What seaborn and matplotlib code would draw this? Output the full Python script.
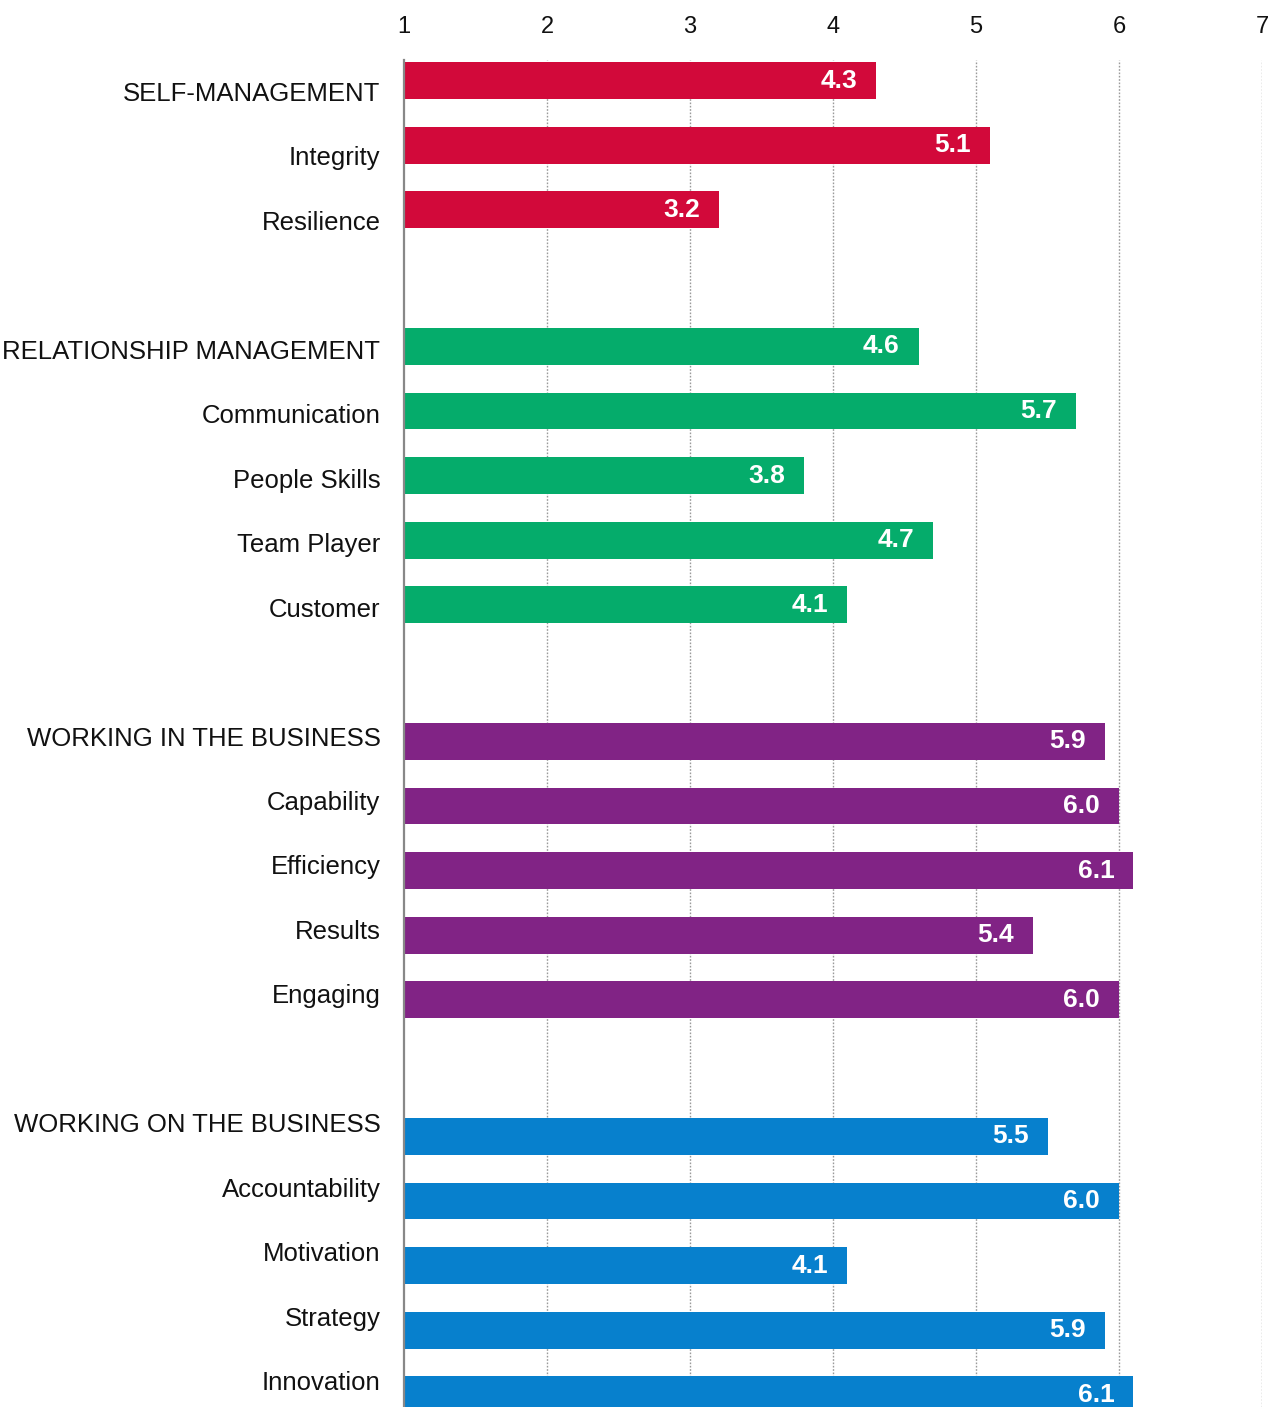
import matplotlib
matplotlib.use("Agg")
import matplotlib.pyplot as plt
import seaborn as sns
import pandas as pd
import numpy as np

labels = ["SELF-MANAGEMENT", "Integrity", "Resilience",
          "RELATIONSHIP MANAGEMENT", "Communication", "People Skills", "Team Player", "Customer",
          "WORKING IN THE BUSINESS", "Capability", "Efficiency", "Results", "Engaging",
          "WORKING ON THE BUSINESS", "Accountability", "Motivation", "Strategy", "Innovation"]
values = [4.3, 5.1, 3.2,
          4.6, 5.7, 3.8, 4.7, 4.1,
          5.9, 6.0, 6.1, 5.4, 6.0,
          5.5, 6.0, 4.1, 5.9, 6.1]
groups = ["self"] * 3 + ["rel"] * 5 + ["in"] * 5 + ["on"] * 5
group_sizes = [3, 5, 5, 5]
palette = {"self": "#D2093A", "rel": "#05AC6B", "in": "#812385", "on": "#0780CD"}
xticks = [1, 2, 3, 4, 5, 6, 7]

# bar row positions: step 1 within group, 2.115 between groups
positions = []
start = 0.0
for n in group_sizes:
    positions.extend([start + i for i in range(n)])
    start = positions[-1] + 2.115

# label rows: step 1 within group, 2 between groups (slightly different pitch)
PITCH = 64.6
label_idx = []
start = 0
for n in group_sizes:
    label_idx.extend([start + i for i in range(n)])
    start = label_idx[-1] + 2
label_pos = [(91.5 + 64.45 * k - 80.5) / PITCH for k in label_idx]

df = pd.DataFrame({"label": labels, "value": values, "group": groups, "pos": positions})

sns.set_theme(style="white")
plt.rcParams["font.family"] = ["Liberation Sans", "DejaVu Sans"]

W, H = 1276, 1407
fig = plt.figure(figsize=(W / 100, H / 100), dpi=100)
ax = fig.add_axes([404 / W, 0, (1262 - 404) / W, (1407 - 60) / H])

sns.barplot(data=df, x="value", y="pos", hue="group", palette=palette, orient="h",
            native_scale=True, dodge=False, width=0.57, legend=False, ax=ax,
            saturation=1, linewidth=0, errorbar=None)

ax.set_xlim(1, 7)
ax.set_ylim((1407 - 80.5) / PITCH, -(80.5 - 60) / PITCH)

ax.set_xticks(xticks)
ax.set_xticklabels([str(t) for t in xticks], fontsize=17, color="#111111")
ax.xaxis.tick_top()
ax.tick_params(axis="x", length=0, pad=16)

ax.set_yticks(label_pos)
ax.set_yticklabels(labels, fontsize=18.5, color="#111111")
ax.tick_params(axis="y", length=0, pad=17)
ax.set_xlabel("")
ax.set_ylabel("")

for x in xticks[1:]:
    ax.axvline(x, color="#9a9a9a", linewidth=1, linestyle=(0, (1.2, 1.2)), zorder=0)

for s in ["top", "right", "bottom"]:
    ax.spines[s].set_visible(False)
ax.spines["left"].set_color("#888888")
ax.spines["left"].set_linewidth(1.6)
ax.spines["left"].set_zorder(5)

for p, v in zip(positions, values):
    ax.annotate(f"{v:.1f}", xy=(v, p), xytext=(-19, 0), textcoords="offset pixels",
                ha="right", va="center", color="white", fontsize=19, fontweight="bold")

fig.savefig("out.png", dpi=100)
